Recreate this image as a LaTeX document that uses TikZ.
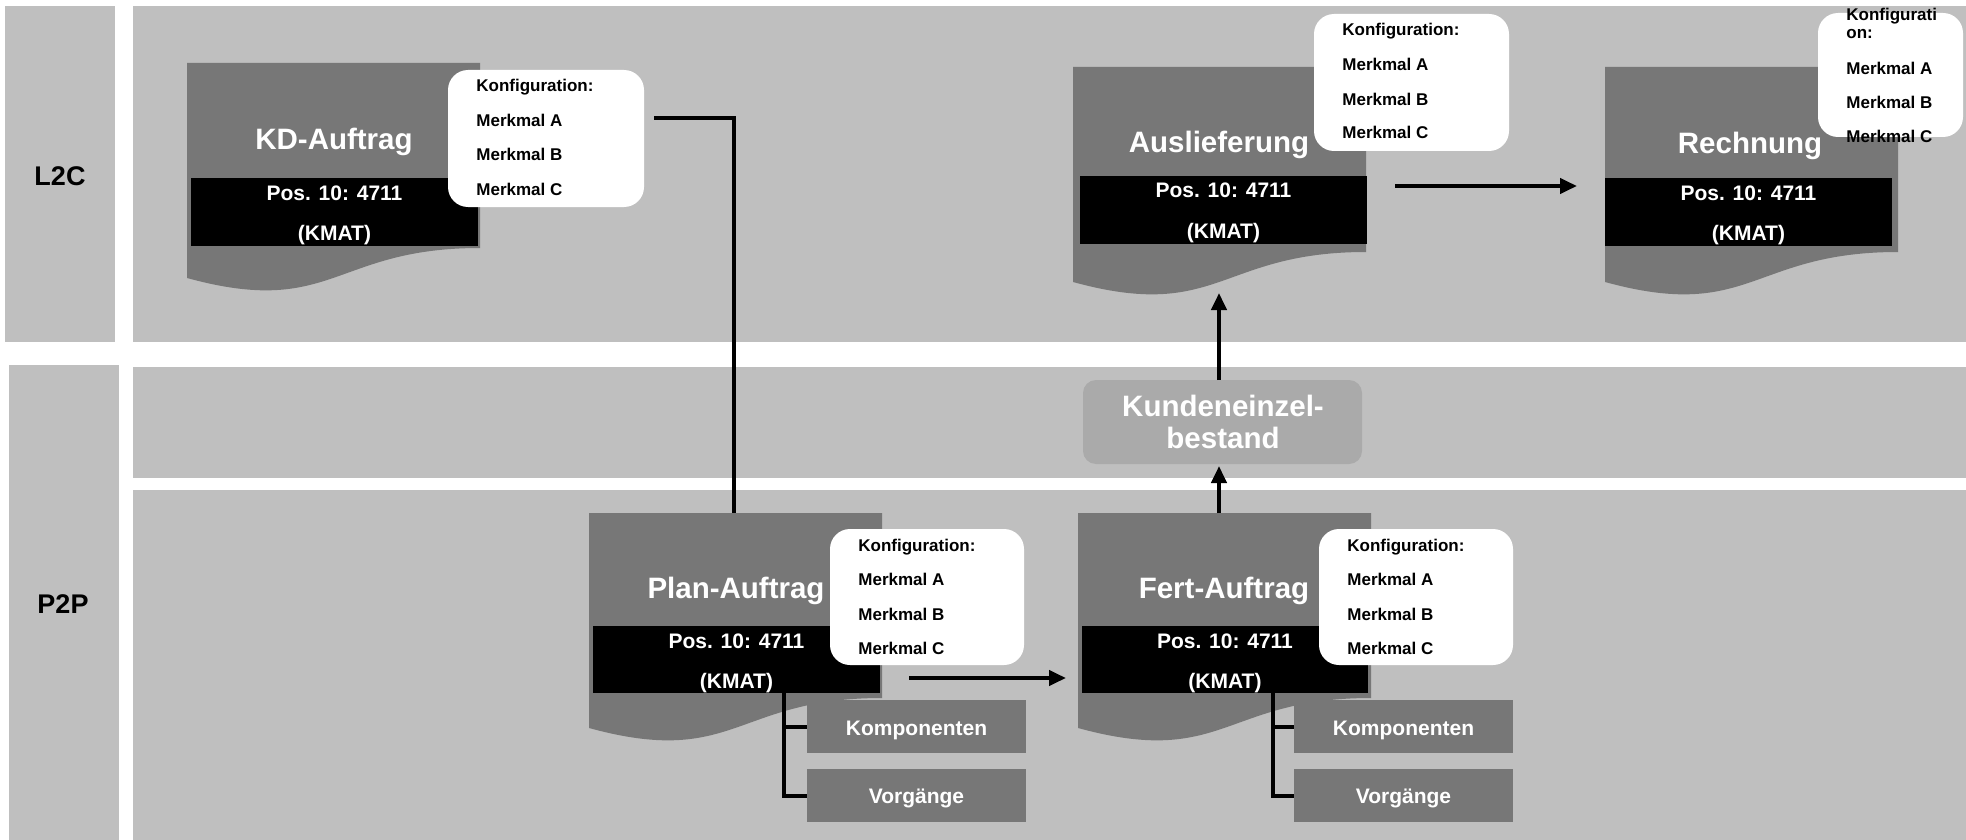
\documentclass[tikz,border=0pt]{standalone}
\usepackage{fontspec}
\setmainfont{Liberation Sans}
\usetikzlibrary{arrows.meta,fit}

\definecolor{bandgray}{RGB}{191,191,191}
\definecolor{docgray}{RGB}{119,119,119}
\definecolor{stockgray}{RGB}{170,170,170}

% order document: grey sheet with a wavy foot, 293 units wide
\newcommand\orderdoc[3]{%
  \begin{scope}[shift={(#2,#3)}]
    \fill[docgray] (0,0) -- (293,0) -- (293,185)
      .. controls (146,185) and (146,255) .. (0,215) -- cycle;
    \coordinate (#1-top) at (146,0);
  \end{scope}}

% the four lines of a configuration card
\newcommand\cfgtexts[3]{%
  \node[cfgtext] (#1-k) at (#2,#3+22)   {Konfiguration:};
  \node[cfgtext] (#1-a) at (#2,#3+56.5) {Merkmal A};
  \node[cfgtext] (#1-b) at (#2,#3+91)   {Merkmal B};
  \node[cfgtext] (#1-c) at (#2,#3+125)  {Merkmal C};}

\begin{document}
\begin{tikzpicture}[x=0.5pt,y=-0.5pt,
  band/.style={fill=bandgray, draw=none, inner sep=0pt},
  kmatbar/.style={fill=black, inner sep=0pt},
  cfgbox/.style={fill=white, rounded corners=10pt, inner sep=0pt},
  subbox/.style={fill=docgray, inner sep=0pt},
  stockbox/.style={fill=stockgray, rounded corners=6.5pt, inner sep=0pt},
  title/.style={anchor=base, text=white, inner sep=0pt,
    font=\bfseries\fontsize{14.75}{16}\selectfont},
  postext/.style={anchor=base, text=white, inner sep=0pt,
    font=\bfseries\fontsize{10.5}{12}\selectfont},
  cfgtext/.style={anchor=base west, inner sep=0pt,
    font=\bfseries\fontsize{8.5}{10}\selectfont},
  lanetext/.style={anchor=base, inner sep=0pt,
    font=\bfseries\fontsize{13.5}{15}\selectfont},
  link/.style={line width=2pt},
  flow/.style={line width=2pt, -{Triangle[length=8.5pt,width=7.5pt]}}]

\useasboundingbox (0,0) rectangle (1966,840);
\fill[white] (0,0) rectangle (1966,840);

% swimlanes
\node[band, fit={(5,6) (115,342)}]     (lane-l2c) {};
\node[band, fit={(9,365) (119,840)}]   (lane-p2p) {};
\node[band, fit={(133,6) (1966,342)}]  (band-l2c) {};
\node[band, fit={(133,367) (1966,478)}] (band-mid) {};
\node[band, fit={(133,490) (1966,840)}] (band-p2p) {};
\node[lanetext] (l2c) at (60,185) {L2C};
\node[lanetext] (p2p) at (63,613) {P2P};

% documents
\orderdoc{kd}{187}{63}
\orderdoc{ausl}{1073}{67}
\orderdoc{rech}{1605}{67}
\orderdoc{plan}{589}{513}
\orderdoc{fert}{1078}{513}

% position bars
\node[kmatbar, fit={(191,178) (478,246)}]   (kd-bar) {};
\node[kmatbar, fit={(1080,176) (1367,244)}] (ausl-bar) {};
\node[kmatbar, fit={(1605,178) (1892,246)}] (rech-bar) {};
\node[kmatbar, fit={(593,626) (880,693)}]   (plan-bar) {};
\node[kmatbar, fit={(1082,626) (1368,693)}] (fert-bar) {};

% titles
\node[title] (kd-title)   at (334,149)  {KD-Auftrag};
\node[title] (ausl-title) at (1219,153) {Auslieferung};
\node[title] (rech-title) at (1750,154) {Rechnung};
\node[title] (plan-title) at (736,598)  {Plan-Auftrag};
\node[title] (fert-title) at (1224,598) {Fert-Auftrag};

% position texts
\node[postext] (kd-pos)   at (334.5,200) {Pos. 10: 4711};
\node[postext] (kd-kmat)  at (334.5,240) {(KMAT)};
\node[postext] (ausl-pos)  at (1223.5,198) {Pos. 10: 4711};
\node[postext] (ausl-kmat) at (1223.5,238) {(KMAT)};
\node[postext] (rech-pos)  at (1748.5,200) {Pos. 10: 4711};
\node[postext] (rech-kmat) at (1748.5,240) {(KMAT)};
\node[postext] (plan-pos)  at (736.5,648) {Pos. 10: 4711};
\node[postext] (plan-kmat) at (736.5,688) {(KMAT)};
\node[postext] (fert-pos)  at (1225,648) {Pos. 10: 4711};
\node[postext] (fert-kmat) at (1225,688) {(KMAT)};

% configuration cards
\node[cfgbox, fit={(448,70) (644,207)}]    (kd-cfg) {};
\node[cfgbox, fit={(1314,14) (1509,151)}]  (ausl-cfg) {};
\node[cfgbox, fit={(1818,13) (1963,137)}]  (rech-cfg) {};
\node[cfgbox, fit={(830,529) (1024,665)}]  (plan-cfg) {};
\node[cfgbox, fit={(1319,529) (1513,665)}] (fert-cfg) {};
\cfgtexts{kdc}{476}{70}
\cfgtexts{auslc}{1342}{14}
\cfgtexts{planc}{858}{529}
\cfgtexts{fertc}{1347}{529}
\node[cfgtext] (rechc-k1) at (1846,21)    {Konfigurati};
\node[cfgtext] (rechc-k2) at (1846,39)    {on:};
\node[cfgtext] (rechc-a)  at (1846,75)    {Merkmal A};
\node[cfgtext] (rechc-b)  at (1846,108.5) {Merkmal B};
\node[cfgtext] (rechc-c)  at (1846,143)   {Merkmal C};

% components and operations
\node[subbox, fit={(807,700) (1026,753)}]   (plan-komp) {};
\node[subbox, fit={(807,769) (1026,822)}]   (plan-vorg) {};
\node[subbox, fit={(1294,700) (1513,753)}]  (fert-komp) {};
\node[subbox, fit={(1294,769) (1513,822)}]  (fert-vorg) {};
\node[postext] (plan-komp-t) at (916.5,735)  {Komponenten};
\node[postext] (plan-vorg-t) at (916.5,803)  {Vorgänge};
\node[postext] (fert-komp-t) at (1403.5,735) {Komponenten};
\node[postext] (fert-vorg-t) at (1403.5,803) {Vorgänge};

% customer stock
\node[stockbox, fit={(1083,380) (1362,464)}] (stock) {};
\node[title] (stock-t1) at (1223,416) {Kundeneinzel-};
\node[title] (stock-t2) at (1223,448) {bestand};

% connector end points
\coordinate (kd-out)    at (654,118);
\coordinate (plan-in)   at (734,513);
\coordinate (ausl-out)  at (1395,186);
\coordinate (rech-in)   at (1577,186);
\coordinate (plan-out)  at (909,678);
\coordinate (fert-in)   at (1066,678);
\coordinate (ausl-in)   at (1219,293);
\coordinate (stock-out) at (1219,380);
\coordinate (stock-in)  at (1219,466);
\coordinate (fert-up)   at (1219,513);
\coordinate (plan-stem) at (784,693);
\coordinate (fert-stem) at (1273,693);

% connectors
\draw[link] (kd-out) -| (plan-in);
\draw[flow] (ausl-out) -- (rech-in);
\draw[flow] (plan-out) -- (fert-in);
\draw[flow] (stock-out) -- (ausl-in);
\draw[flow] (fert-up) -- (stock-in);
\draw[link] (plan-stem) |- (plan-komp.west);
\draw[link] (plan-stem) |- (plan-vorg.west);
\draw[link] (fert-stem) |- (fert-komp.west);
\draw[link] (fert-stem) |- (fert-vorg.west);

\end{tikzpicture}
\end{document}
